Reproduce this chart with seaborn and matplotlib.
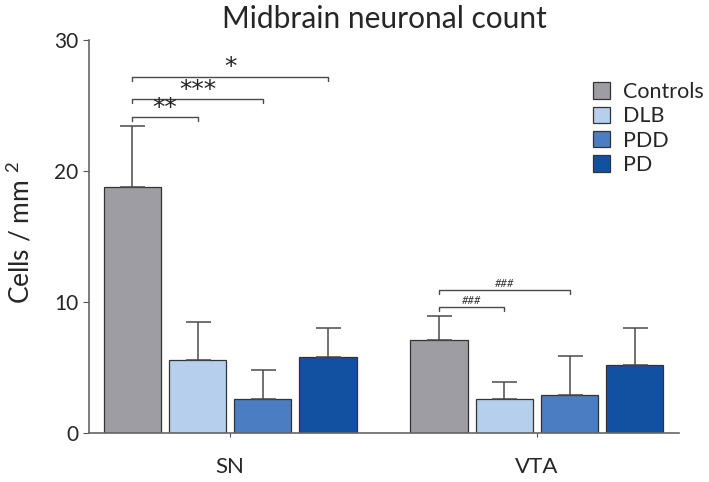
import pandas as pd
import numpy as np
import seaborn as sns
import matplotlib.pyplot as plt

# Values
regions = ['SN', 'VTA']
groups = ['Controls', 'DLB', 'PDD', 'PD']
sn_mean = [18.8, 5.6, 2.6, 5.8]
sn_sd = [4.6, 2.9, 2.2, 2.2]
vta_mean = [7.1, 2.6, 2.9, 5.2]
vta_sd = [1.8, 1.3, 3.0, 2.8]
colors = ['#9e9da3', '#b5cfec', '#4a7dc1', '#1251a1']

# significance brackets: (region, group a, group b, height, label)
brackets = [
    ('SN', 'Controls', 'DLB', 24.1, '**'),
    ('SN', 'Controls', 'PDD', 25.5, '***'),
    ('SN', 'Controls', 'PD', 27.2, '*'),
    ('VTA', 'Controls', 'DLB', 9.6, '###'),
    ('VTA', 'Controls', 'PDD', 10.9, '###'),
]

df = pd.DataFrame({
    'region': np.repeat(regions, len(groups)),
    'group': groups * len(regions),
    'count': sn_mean + vta_mean,
    'sd': sn_sd + vta_sd,
})

sns.set_style('ticks')
plt.rcParams['font.family'] = ['Lato', 'DejaVu Sans']
plt.rcParams['mathtext.fontset'] = 'custom'
plt.rcParams['mathtext.rm'] = 'Lato'

fig = plt.figure(figsize=(7.09, 4.82), dpi=100)
ax = fig.add_axes([89 / 709, 1 - 433 / 482, 590 / 709, 393 / 482])

sns.barplot(data=df, x='region', y='count', hue='group', hue_order=groups,
            palette=colors, saturation=1, width=0.85, gap=0.12, errorbar=None,
            edgecolor='#333333', linewidth=0.9, ax=ax)

# one-sided error bars from the bar tops
centers = {}
for g, cont in zip(groups, ax.containers):
    for r, bar in zip(regions, cont.patches):
        xc = bar.get_x() + bar.get_width() / 2
        centers[(r, g)] = xc
        sd = df.loc[(df.region == r) & (df.group == g), 'sd'].iloc[0]
        ax.errorbar(xc, bar.get_height(), yerr=[[0], [sd]], fmt='none',
                    ecolor='#4a4a4a', elinewidth=1.1, capsize=9, capthick=1.1)

for r, a, b, h, lab in brackets:
    x1, x2 = centers[(r, a)], centers[(r, b)]
    ax.plot([x1, x1, x2, x2], [h - 0.3, h, h, h - 0.3], color='#4a4a4a', lw=1)
    if lab.startswith('#'):
        ax.text((x1 + x2) / 2, h + 0.1, lab, ha='center', va='bottom',
                fontsize=8, fontstyle='italic', color='#333333')
    else:
        ax.text((x1 + x2) / 2, h - 0.2, lab, ha='center', va='bottom',
                fontsize=18, color='#222222', family='DejaVu Sans')

ax.set_xlim(-0.46, 1.463)
ax.set_ylim(0, 30)
ax.set_yticks([0, 10, 20, 30])
ax.set_xlabel('')
ax.set_ylabel('Cells / mm $^2$', fontsize=19)
ax.yaxis.set_label_coords(-0.092, 0.51)
ax.set_title('Midbrain neuronal count', fontsize=21.5, pad=9)
ax.tick_params(axis='y', labelsize=15, length=4, color='#555555')
ax.tick_params(axis='x', labelsize=16, length=3, color='#555555', pad=14)
sns.despine(ax=ax)
for s in ['left', 'bottom']:
    ax.spines[s].set_color('#666666')
    ax.spines[s].set_linewidth(1.2)

ax.legend(frameon=False, loc='upper left', bbox_to_anchor=(0.84, 0.915),
          fontsize=15.5, handlelength=0.8, handleheight=0.8, labelspacing=0.2,
          handletextpad=0.6, borderaxespad=0)

plt.savefig('out.png', dpi=100)
